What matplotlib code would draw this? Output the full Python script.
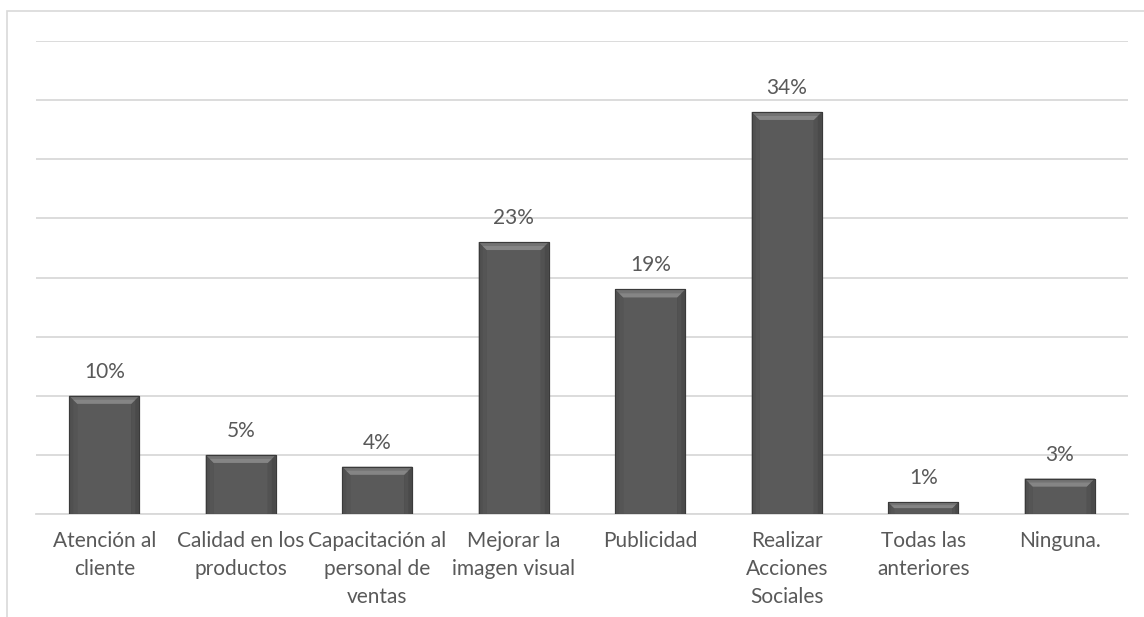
import matplotlib
matplotlib.use("Agg")
import matplotlib.pyplot as plt
from matplotlib.patches import Polygon, Rectangle

categories = [
    "Atención al\ncliente",
    "Calidad en los\nproductos",
    "Capacitación al\npersonal de\nventas",
    "Mejorar la\nimagen visual",
    "Publicidad",
    "Realizar\nAcciones\nSociales",
    "Todas las\nanteriores",
    "Ninguna.",
]
values = [0.10, 0.05, 0.04, 0.23, 0.19, 0.34, 0.01, 0.03]
labels = ["10%", "5%", "4%", "23%", "19%", "34%", "1%", "3%"]

plt.rcParams["font.family"] = ["Lato", "DejaVu Sans"]
TEXT = "#595959"
GRID = "#d9d9d9"

W, H = 1144, 617
fig = plt.figure(figsize=(W / 100, H / 100), dpi=100)
ax = fig.add_axes([36 / W, 103 / H, 1092 / W, 473 / H])

# outer chart frame
fig.patches.append(Rectangle((7 / W, -0.1), 1.2, 1.1 - 11 / H,
                             transform=fig.transFigure, fill=False,
                             edgecolor=GRID, linewidth=1.2, zorder=0))

x = list(range(len(categories)))
bars = ax.bar(x, values, width=0.513, color="#5a5a5a",
              edgecolor="#3e3e3e", linewidth=0.8, zorder=3)

ax.set_xlim(-0.5, len(categories) - 0.5)
ax.set_ylim(0, 0.40)
ax.set_yticks([i * 0.05 for i in range(9)])
ax.yaxis.grid(True, color=GRID, linewidth=1.3)
ax.set_axisbelow(True)
ax.tick_params(axis="y", left=False, labelleft=False)
ax.tick_params(axis="x", bottom=False, pad=9)
for s in ["top", "right", "left"]:
    ax.spines[s].set_visible(False)
ax.spines["bottom"].set_color(GRID)
ax.spines["bottom"].set_linewidth(1.3)

ax.set_xticks(x)
ax.set_xticklabels(categories, fontsize=15, color=TEXT, linespacing=1.5)

# bevel shading on each bar
px_x = 1.0 / 136.5
px_y = 0.40 / 473
for rect in bars:
    x0, y0 = rect.get_x(), rect.get_y()
    w, h = rect.get_width(), rect.get_height()
    x1, y1 = x0 + w, y0 + h
    hp = h / px_y
    d = min(8, hp * 0.5)
    dy = d * px_y
    dx = d * px_x
    # side facets
    ax.add_patch(Polygon([(x0, y1), (x0 + dx, y1 - dy), (x0 + dx, y0), (x0, y0)],
                         closed=True, facecolor="#505050", edgecolor="none", zorder=4))
    ax.add_patch(Polygon([(x1, y1), (x1 - dx, y1 - dy), (x1 - dx, y0), (x1, y0)],
                         closed=True, facecolor="#4a4a4a", edgecolor="none", zorder=4))
    ax.add_patch(Polygon([(x0 + dx * 0.5, y1), (x0 + dx, y1 - dy), (x0 + dx, y0), (x0 + dx * 0.5, y0)],
                         closed=True, facecolor="#555555", edgecolor="none", zorder=4))
    ax.add_patch(Polygon([(x1 - dx * 0.5, y1), (x1 - dx, y1 - dy), (x1 - dx, y0), (x1 - dx * 0.5, y0)],
                         closed=True, facecolor="#525252", edgecolor="none", zorder=4))
    # top facet, lighter towards its lower edge
    ax.add_patch(Polygon([(x0, y1), (x1, y1), (x1 - dx, y1 - dy), (x0 + dx, y1 - dy)],
                         closed=True, facecolor="#737373", edgecolor="none", zorder=4))
    ax.add_patch(Polygon([(x0 + dx * 0.5, y1 - dy * 0.5), (x1 - dx * 0.5, y1 - dy * 0.5),
                          (x1 - dx, y1 - dy), (x0 + dx, y1 - dy)],
                         closed=True, facecolor="#858585", edgecolor="none", zorder=4))
    # outline
    ax.add_patch(Rectangle((x0, y0), w, h, fill=False, edgecolor="#3a3a3a",
                           linewidth=0.8, zorder=5))

for rect, lab in zip(bars, labels):
    ax.annotate(lab, (rect.get_x() + rect.get_width() / 2, rect.get_height()),
                xytext=(0, 10), textcoords="offset points", ha="center", va="bottom",
                fontsize=15, color=TEXT)

fig.savefig("out.png", dpi=100, facecolor="white")
